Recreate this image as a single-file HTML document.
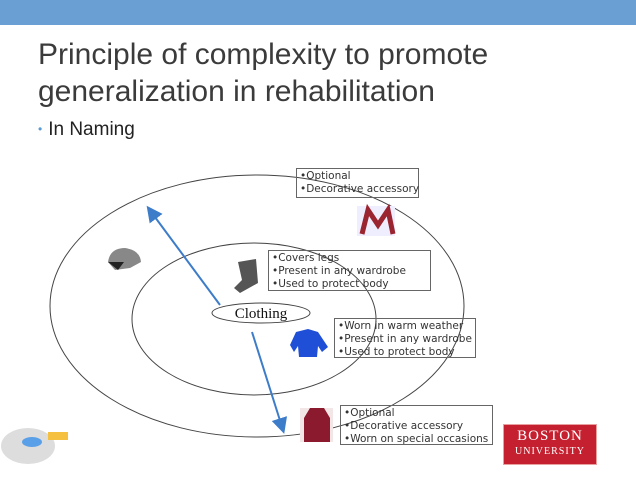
<!DOCTYPE html>
<html><head><style>
body{margin:0;width:636px;height:477px;background:#fff;overflow:hidden;position:relative;font-family:"Liberation Sans",sans-serif}
.bar{position:absolute;left:0;top:0;width:636px;height:25px;background:#6a9fd4}
.t{position:absolute;left:38px;top:36px;font-size:30px;line-height:37px;color:#3b3b3b}
.b{position:absolute;left:38px;top:119px;font-size:19px;color:#222}
.b span{color:#5b9bd5;font-size:12px;margin-right:6px;position:relative;top:-2px}
.box{position:absolute;border:1px solid #666;font-family:"DejaVu Sans",sans-serif;font-size:10.5px;line-height:12.8px;color:#333;padding:1px 3px;box-sizing:border-box;white-space:nowrap;background:transparent}
</style></head><body>
<div class="bar"></div>
<div class="t">Principle of complexity to promote<br>generalization in rehabilitation</div>
<div class="b"><span>•</span>In Naming</div>
<svg width="636" height="477" style="position:absolute;left:0;top:0">
<defs><marker id="a" markerWidth="8" markerHeight="8" refX="6" refY="4" orient="auto"><path d="M0,0L8,4L0,8z" fill="#3d7cc9"/></marker></defs>
<ellipse cx="257" cy="306" rx="207" ry="131" fill="none" stroke="#444" stroke-width="1"/>
<ellipse cx="254" cy="319" rx="122" ry="76" fill="none" stroke="#444" stroke-width="1"/>
<line x1="220" y1="305" x2="149" y2="209" stroke="#3d7cc9" stroke-width="2" marker-end="url(#a)"/>
<line x1="252" y1="332" x2="283" y2="430" stroke="#3d7cc9" stroke-width="2" marker-end="url(#a)"/>
<ellipse cx="261" cy="313" rx="49" ry="10" fill="#fff" stroke="#444"/>
<text x="261" y="318" text-anchor="middle" font-family="Liberation Serif" font-size="15" fill="#111">Clothing</text>
<path d="M108,262 Q110,248 125,248 Q140,250 141,262 L130,268 L115,270 Z" fill="#888"/>
<path d="M108,262 L118,270 L124,262 Z" fill="#222"/>
<path d="M238,262 L256,259 L258,283 L240,293 L234,288 L242,280Z" fill="#555"/>
<rect x="357" y="206" width="38" height="30" fill="#eef"/>
<path d="M362,234 L368,210 L378,225 L388,210 L393,234" fill="none" stroke="#9a2530" stroke-width="5"/>
<path d="M290,345 L296,332 L308,329 L318,332 L328,347 L322,352 L318,346 L317,357 L299,357 L298,346 L294,352Z" fill="#1e4fd6"/>
<rect x="300" y="408" width="33" height="34" fill="#f2e6e6"/>
<path d="M304,418 L310,408 L324,408 L330,418 L330,442 L304,442Z" fill="#8b1a2e"/>
<ellipse cx="28" cy="446" rx="27" ry="18" fill="#ddd"/>
<ellipse cx="32" cy="442" rx="10" ry="5" fill="#5aa0e8"/>
<rect x="48" y="432" width="20" height="8" fill="#f5c040"/>
</svg>
<div class="box" style="left:296px;top:168px;width:123px;height:30px">•Optional<br>•Decorative accessory</div>
<div class="box" style="left:268px;top:250px;width:163px;height:41px">•Covers legs<br>•Present in any wardrobe<br>•Used to protect body</div>
<div class="box" style="left:334px;top:318px;width:142px;height:40px">•Worn in warm weather<br>•Present in any wardrobe<br>•Used to protect body</div>
<div class="box" style="left:340px;top:405px;width:153px;height:40px">•Optional<br>•Decorative accessory<br>•Worn on special occasions</div>
<div style="position:absolute;left:503px;top:424px;width:94px;height:41px;background:#c4202f;border:1px solid #e8a0a0;box-sizing:border-box;color:#fff;font-family:'Liberation Serif',serif;text-align:center">
<div style="font-size:15px;line-height:18px;margin-top:2px;letter-spacing:1px">BOSTON</div>
<div style="font-size:10px;line-height:13px;letter-spacing:1px">UNIVERSITY</div></div>
</body></html>
